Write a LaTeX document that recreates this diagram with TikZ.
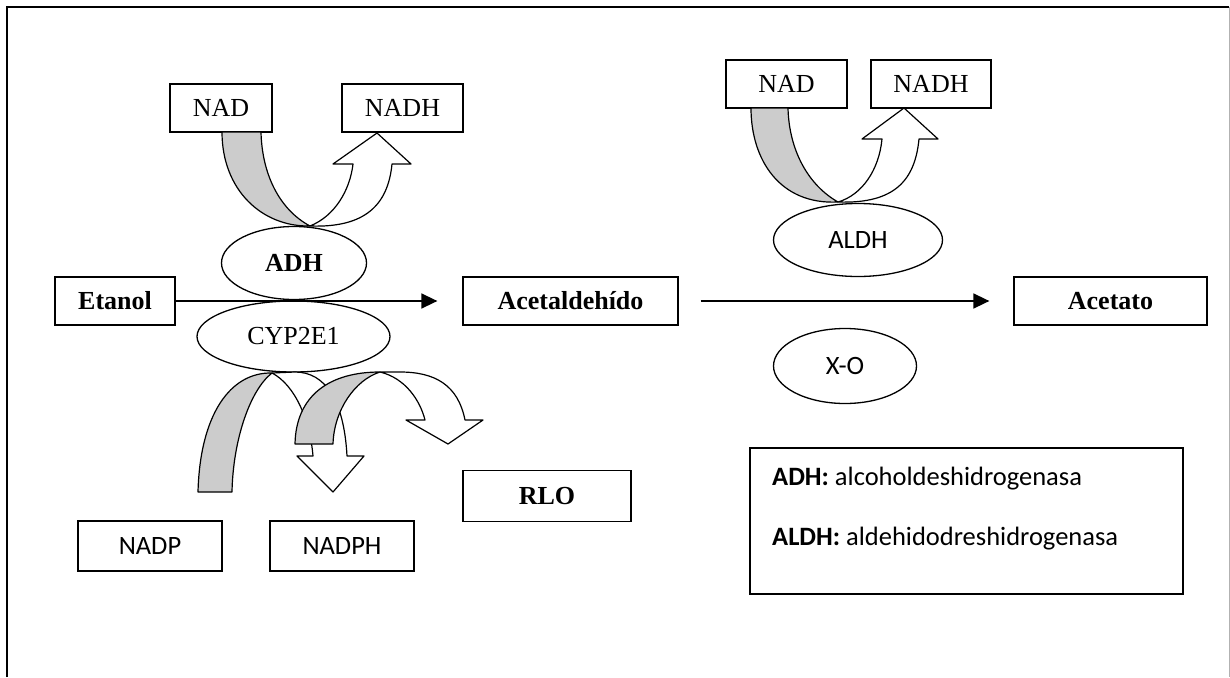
\documentclass[tikz,border=0pt]{standalone}
\usepackage{fontspec}
\setmainfont{Liberation Serif}
\newfontfamily\calibri{Carlito}
\usetikzlibrary{shapes.geometric,arrows.meta}
\newcommand{\serifsz}{\fontsize{26}{30}\selectfont}
\newcommand{\calsz}{\calibri\fontsize{26.5}{30}\selectfont}

\begin{document}
\begin{tikzpicture}[x=1pt, y=-1pt,
        box/.style={draw, line width=1.3pt, inner sep=0pt, minimum height=48pt, font=\serifsz},
        enz/.style={ellipse, draw, line width=1.3pt, fill=white, inner sep=0pt, minimum height=73pt, font=\serifsz},
        band/.style={draw, line width=1.2pt, line join=round},
        gband/.style={band, fill=black!20},
        wband/.style={band, fill=white},
        arrow/.style={-{Triangle[length=16pt,width=15pt]}, line width=1.6pt}
    ]
    \useasboundingbox (0,0) rectangle (1230,677);
    % Frame
    \draw[line width=1.5pt] (7,677) -- (7,7) -- (1229,7);
    \draw[black!30, line width=1pt] (1229,7) -- (1229,677);

    % Cofactors
    \node[box, minimum width=102pt] (nad1) at (221,108) {NAD};
    \node[box, minimum width=121pt] (nadh1) at (402.5,108) {NADH};
    \node[box, minimum width=121pt] (nad2) at (786.5,84) {NAD};
    \node[box, minimum width=120pt] (nadh2) at (931,84) {NADH};

    % Substrates
    \node[box, minimum width=120pt, font=\bfseries\serifsz] (etanol) at (115,301) {Etanol};
    \node[box, minimum width=215pt, font=\bfseries\serifsz] (acetal) at (570.5,301) {Acetaldehído};
    \node[box, minimum width=193pt, font=\bfseries\serifsz] (acetato) at (1110.5,301) {Acetato};

    % Enzymes
    \node[enz, minimum width=145pt, font=\bfseries\serifsz] (adh) at (294,263) {ADH};
    \node[enz, minimum width=193pt, minimum height=71pt] (cyp) at (293.5,336.5) {CYP2E1};
    \node[enz, minimum width=169pt, font=\calsz] (aldh) at (858,240) {ALDH};
    \node[enz, minimum width=143pt, minimum height=75pt, font=\calsz] (xo) at (845,366) {X-O};

    % Products
    \node[box, minimum width=168pt, minimum height=51pt, font=\bfseries\serifsz] (rlo) at (547,496) {RLO};
    \node[box, minimum width=144pt, minimum height=50pt, font=\calsz] (nadp) at (150,546) {NADP};
    \node[box, minimum width=144pt, minimum height=50pt, font=\calsz] (nadph) at (342,546) {NADPH};

    % Legend
    \node[box, minimum width=433pt, minimum height=146pt] (legend) at (966.5,521) {};
    \node[anchor=base west, inner sep=0pt, font=\calsz] (leg1) at (772,485) {\textbf{ADH:} alcoholdeshidrogenasa};
    \node[anchor=base west, inner sep=0pt, font=\calsz] (leg2) at (772,545) {\textbf{ALDH:} aldehidodreshidrogenasa};

    % ADH: NAD -> NADH
    \draw[gband] (222,132) -- (261,132) .. controls (262,175) and (280,210) .. (310,226)
        .. controls (262,227) and (222,190) .. (222,132) -- cycle;
    \draw[wband] (310,226) .. controls (335,216) and (350,190) .. (353,164) -- (333,164) -- (377,133)
        -- (411,164) -- (392,164) .. controls (388,205) and (365,228) .. (310,226) -- cycle;

    % ALDH: NAD -> NADH
    \draw[gband] (751,108) -- (788,108) .. controls (789,150) and (808,185) .. (838,202)
        .. controls (780,205) and (751,160) .. (751,108) -- cycle;
    \draw[wband] (838,202) .. controls (862,195) and (879,170) .. (882,139) -- (862,139) -- (904,108)
        -- (938,139) -- (919,139) .. controls (915,180) and (895,204) .. (838,202) -- cycle;

    % CYP2E1: NADP -> NADPH, RLO
    \draw[wband] (272,373) .. controls (295,385) and (310,420) .. (313,456) -- (297,456) -- (333,492)
        -- (364,456) -- (347,456) .. controls (344,400) and (325,372) .. (295,372) -- cycle;
    \draw[gband] (198,492) .. controls (200,415) and (230,372) .. (272,373)
        .. controls (250,390) and (233,440) .. (232,492) -- cycle;
    \draw[wband] (380,372) .. controls (405,378) and (420,400) .. (425,420) -- (406,420) -- (448,444)
        -- (483,420) -- (465,420) .. controls (458,385) and (435,372) .. (400,372) -- cycle;
    \draw[gband] (295,444) .. controls (296,395) and (330,372) .. (380,372)
        .. controls (355,380) and (334,410) .. (333,444) -- cycle;

    % Reactions
    \draw[arrow] (etanol) -- ([xshift=-25pt]acetal.west);
    \draw[arrow] ([xshift=22pt]acetal.east) -- ([xshift=-24pt]acetato.west);
\end{tikzpicture}
\end{document}
